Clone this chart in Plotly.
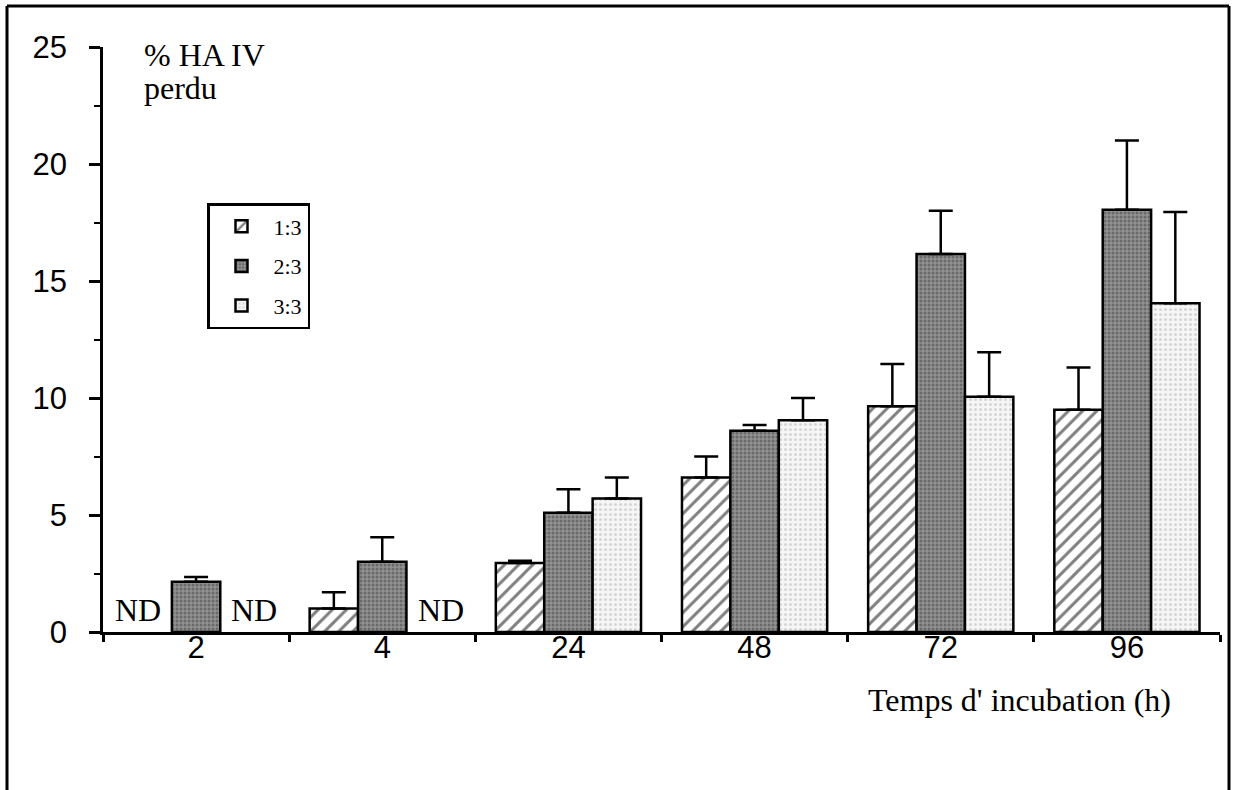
import plotly.graph_objects as go

# ---- data ----
categories = ["2", "4", "24", "48", "72", "96"]
series_names = ["1:3", "2:3", "3:3"]
v_13 = [None, 1.0, 2.95, 6.6, 9.65, 9.5]
e_13 = [0.0, 0.7, 0.1, 0.9, 1.8, 1.8]
v_23 = [2.15, 3.0, 5.1, 8.6, 16.15, 18.05]
e_23 = [0.2, 1.05, 1.0, 0.25, 1.85, 2.95]
v_33 = [None, None, 5.7, 9.05, 10.05, 14.05]
e_33 = [0.0, 0.0, 0.9, 0.95, 1.9, 3.9]
y_ticks = [0, 5, 10, 15, 20, 25]
nd_text = "ND"

W, H = 1236, 790
ML, MR, MT, MB = 103, 16, 47, 158
BARGAP = 0.22
plot_w = W - ML - MR
plot_h = H - MT - MB

SERIF = "Liberation Serif, Times New Roman, serif"
SANS = "Liberation Sans, Arial, sans-serif"
SERIF_SIZE = 32
SANS_SIZE = 31


def px_x(x):
    return (x - ML) / plot_w


def px_y(y):
    return (H - MB - y) / plot_h


styles = [
    dict(color="white", pattern=dict(shape="/", fgcolor="black", bgcolor="white", size=10, solidity=0.3)),
    dict(color="#808080", pattern=dict(shape=".", fgcolor="#404040", bgcolor="#929292", size=4, solidity=0.45)),
    dict(color="#eeeeee", pattern=dict(shape=".", fgcolor="#b5b5b5", bgcolor="#f6f6f6", size=5, solidity=0.3)),
]

fig = go.Figure()
all_vals = [v_13, v_23, v_33]
all_errs = [e_13, e_23, e_33]
for i, (name, vals, errs) in enumerate(zip(series_names, all_vals, all_errs)):
    fig.add_trace(go.Bar(
        x=categories, y=vals, name=name, legendgroup=name,
        marker=dict(color=styles[i]["color"], pattern=styles[i]["pattern"],
                    line=dict(color="black", width=2.5)),
        error_y=dict(type="data", symmetric=False, array=errs,
                     arrayminus=[0] * len(errs), color="black",
                     thickness=2.5, width=12),
    ))

# ND labels for missing values
slot = plot_w / len(categories) * (1 - BARGAP) / 3
annotations = []
for i, vals in enumerate(all_vals):
    for j, v in enumerate(vals):
        if v is None:
            annotations.append(dict(
                x=j, y=0, xref="x", yref="y", text=nd_text, showarrow=False,
                xshift=(i - 1) * (slot + 10), yanchor="bottom", yshift=2,
                font=dict(family=SERIF, size=SERIF_SIZE, color="black")))

annotations += [
    dict(x=px_x(143), y=px_y(55), xref="paper", yref="paper", text="% HA IV",
         showarrow=False, xanchor="left", yanchor="middle", height=30, borderpad=0,
         font=dict(family=SERIF, size=SERIF_SIZE, color="black")),
    dict(x=px_x(143), y=px_y(88), xref="paper", yref="paper", text="perdu",
         showarrow=False, xanchor="left", yanchor="middle", height=36, borderpad=0,
         font=dict(family=SERIF, size=SERIF_SIZE, color="black")),
    dict(x=px_x(1019), y=px_y(700), xref="paper", yref="paper", text="Temps d' incubation (h)",
         showarrow=False, xanchor="center", yanchor="middle",
         font=dict(family=SERIF, size=SERIF_SIZE, color="black")),
]

frame_left = px_x(7)
frame_right = px_x(1229)
frame_top = px_y(6)
frame_bottom = px_y(H + 20)
shapes = [
    dict(type="line", xref="paper", yref="paper", x0=frame_left, x1=frame_left,
         y0=frame_bottom, y1=frame_top, line=dict(color="black", width=3)),
    dict(type="line", xref="paper", yref="paper", x0=frame_left, x1=frame_right,
         y0=frame_top, y1=frame_top, line=dict(color="black", width=3)),
    dict(type="line", xref="paper", yref="paper", x0=frame_right, x1=frame_right,
         y0=frame_bottom, y1=frame_top, line=dict(color="black", width=3)),
]

fig.update_layout(
    width=W, height=H,
    margin=dict(l=ML, r=MR, t=MT, b=MB, pad=0),
    paper_bgcolor="white", plot_bgcolor="white",
    barmode="group", bargap=BARGAP, bargroupgap=0,
    showlegend=True,
    legend=dict(x=px_x(207), y=px_y(203),
                xanchor="left", yanchor="top",
                bordercolor="black", borderwidth=2.5, bgcolor="white",
                font=dict(family=SERIF, size=22, color="black"),
                tracegroupgap=8, itemwidth=54),
    annotations=annotations,
    shapes=shapes,
    xaxis=dict(type="category", showline=True, linecolor="black", linewidth=2.5,
               ticks="outside", tickson="boundaries", ticklen=7, tickwidth=2.5,
               tickcolor="black", showgrid=False, zeroline=False,
               ticklabelstandoff=-14,
               tickfont=dict(family=SANS, size=SANS_SIZE, color="black")),
    yaxis=dict(range=[0, 25], tickvals=y_ticks, showline=True, linecolor="black",
               linewidth=2.5, ticks="outside", ticklen=11, tickwidth=2.5,
               tickcolor="black", showgrid=False, zeroline=False,
               ticklabelstandoff=16,
               minor=dict(dtick=2.5, ticks="outside", ticklen=6, tickwidth=2,
                          tickcolor="black"),
               tickfont=dict(family=SANS, size=SANS_SIZE, color="black")),
)

fig.write_html("out.html", config={"displayModeBar": False},
               post_script="document.body.style.margin='0';")
